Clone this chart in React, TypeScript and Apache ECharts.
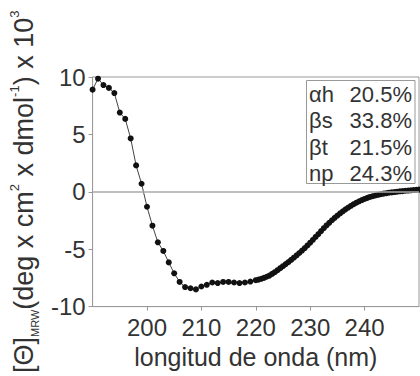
import React, { useEffect, useRef } from "react";
import * as echarts from "echarts";

// Wavelength (nm): 1 nm steps up to 220 nm, 0.5 nm steps beyond
const wavelengths: number[] = [
  190, 191, 192, 193, 194, 195, 196, 197, 198, 199,
  200, 201, 202, 203, 204, 205, 206, 207, 208, 209,
  210, 211, 212, 213, 214, 215, 216, 217, 218, 219, 220,
  220.5, 221, 221.5, 222, 222.5, 223, 223.5, 224, 224.5, 225,
  225.5, 226, 226.5, 227, 227.5, 228, 228.5, 229, 229.5, 230,
  230.5, 231, 231.5, 232, 232.5, 233, 233.5, 234, 234.5, 235,
  235.5, 236, 236.5, 237, 237.5, 238, 238.5, 239, 239.5, 240,
  240.5, 241, 241.5, 242, 242.5, 243, 243.5, 244, 244.5, 245,
  245.5, 246, 246.5, 247, 247.5, 248, 248.5, 249, 249.5, 250,
];

// Mean residue ellipticity (x 10^3 deg cm^2 dmol^-1)
const ellipticity: number[] = [
  8.9, 9.85, 9.3, 9.05, 8.6, 6.9, 6.35, 4.65, 2.3, 0.7,
  -1.3, -2.95, -4.4, -5.15, -6.15, -7.1, -7.85, -8.3, -8.4, -8.5,
  -8.25, -8.1, -7.9, -7.95, -7.85, -7.85, -7.9, -7.95, -7.9, -7.82, -7.7,
  -7.65, -7.58, -7.5, -7.4, -7.3, -7.15, -7.0, -6.83, -6.65, -6.48,
  -6.3, -6.12, -5.93, -5.74, -5.54, -5.33, -5.12, -4.9, -4.67, -4.43,
  -4.18, -3.93, -3.68, -3.42, -3.17, -2.93, -2.7, -2.48, -2.27, -2.07,
  -1.88, -1.7, -1.53, -1.37, -1.22, -1.08, -0.95, -0.83, -0.72, -0.62,
  -0.53, -0.45, -0.38, -0.32, -0.26, -0.21, -0.16, -0.12, -0.08, -0.05,
  -0.02, 0.01, 0.04, 0.06, 0.09, 0.11, 0.13, 0.15, 0.17, 0.19,
];

// Secondary structure estimate shown in the inset box
const structureLabels: string[] = ["αh", "βs", "βt", "np"];
const structureValues: string[] = ["20.5%", "33.8%", "21.5%", "24.3%"];

const FONT = "'Liberation Sans', Arial, sans-serif";
const TEXT = "#333";
const FRAME = "#999";

export default function App() {
  const ref = useRef<HTMLDivElement>(null);

  useEffect(() => {
    if (!ref.current) return;
    const chart = echarts.init(ref.current, undefined, { renderer: "svg" });

    const points = wavelengths.map((w, i) => [w, ellipticity[i]]);

    const rowTop = 94;
    const rowStep = 26.6;
    const boxTexts: any[] = [];
    structureLabels.forEach((lab, i) => {
      boxTexts.push({
        type: "text",
        x: 309,
        y: rowTop + i * rowStep,
        style: {
          text: lab,
          fontSize: 22,
          fontFamily: FONT,
          fill: TEXT,
          verticalAlign: "middle",
          align: "left",
        },
      });
      boxTexts.push({
        type: "text",
        x: 412,
        y: rowTop + i * rowStep,
        style: {
          text: structureValues[i],
          fontSize: 22,
          fontFamily: FONT,
          fill: TEXT,
          verticalAlign: "middle",
          align: "right",
        },
      });
    });

    chart.setOption({
      animation: false,
      backgroundColor: "#fff",
      grid: {
        left: 90,
        top: 77,
        width: 329,
        height: 238,
        show: true,
        borderColor: FRAME,
        borderWidth: 1,
        backgroundColor: "transparent",
      },
      xAxis: {
        type: "value",
        min: 190,
        max: 250,
        interval: 10,
        name: "longitud de onda (nm)",
        nameLocation: "middle",
        nameGap: 36,
        nameTextStyle: { fontSize: 25, color: TEXT, fontFamily: FONT },
        axisLine: { onZero: false, lineStyle: { color: FRAME, width: 1 } },
        axisTick: { show: true, length: 4, lineStyle: { color: FRAME } },
        axisLabel: {
          fontSize: 24,
          color: TEXT,
          fontFamily: FONT,
          margin: 9,
          showMinLabel: false,
          showMaxLabel: false,
        },
        splitLine: { show: false },
      },
      yAxis: {
        type: "value",
        min: -10,
        max: 10,
        interval: 5,
        name:
          "{a|[Θ]}{s|MRW}{a|(deg x cm}{p|2}{a| x dmol}{p|-1}{a|) x 10}{p|3}",
        nameLocation: "middle",
        nameRotate: 90,
        nameGap: 52,
        nameTextStyle: {
          color: TEXT,
          fontFamily: FONT,
          rich: {
            a: { fontSize: 27, color: TEXT, fontFamily: FONT, lineHeight: 32 },
            s: {
              fontSize: 11,
              color: TEXT,
              fontFamily: FONT,
              lineHeight: 32,
              verticalAlign: "bottom",
            },
            p: {
              fontSize: 13,
              color: TEXT,
              fontFamily: FONT,
              lineHeight: 32,
              verticalAlign: "top",
            },
          },
        },
        axisLine: { show: true, lineStyle: { color: FRAME, width: 1 } },
        axisTick: { show: true, length: 4, lineStyle: { color: FRAME } },
        axisLabel: { fontSize: 24, color: TEXT, fontFamily: FONT, margin: 7 },
        splitLine: { show: false },
      },
      series: [
        {
          type: "line",
          data: points,
          symbol: "circle",
          symbolSize: 6,
          showAllSymbol: true,
          itemStyle: { color: "#111" },
          lineStyle: { color: "#444", width: 1 },
          markLine: {
            silent: true,
            symbol: "none",
            label: { show: false },
            lineStyle: { color: "#aaa", type: "solid", width: 1.5 },
            data: [{ yAxis: 0 }],
          },
        },
      ],
      graphic: [
        {
          type: "rect",
          shape: { x: 306.5, y: 80.5, width: 108.5, height: 103 },
          style: { fill: "#fff", stroke: FRAME, lineWidth: 1 },
          z: 10,
        },
        ...boxTexts.map((t) => ({ ...t, z: 11 })),
      ],
    });

    return () => chart.dispose();
  }, []);

  return (
    <div
      ref={ref}
      style={{ position: "fixed", left: 0, top: 0, width: 420, height: 376 }}
    />
  );
}
